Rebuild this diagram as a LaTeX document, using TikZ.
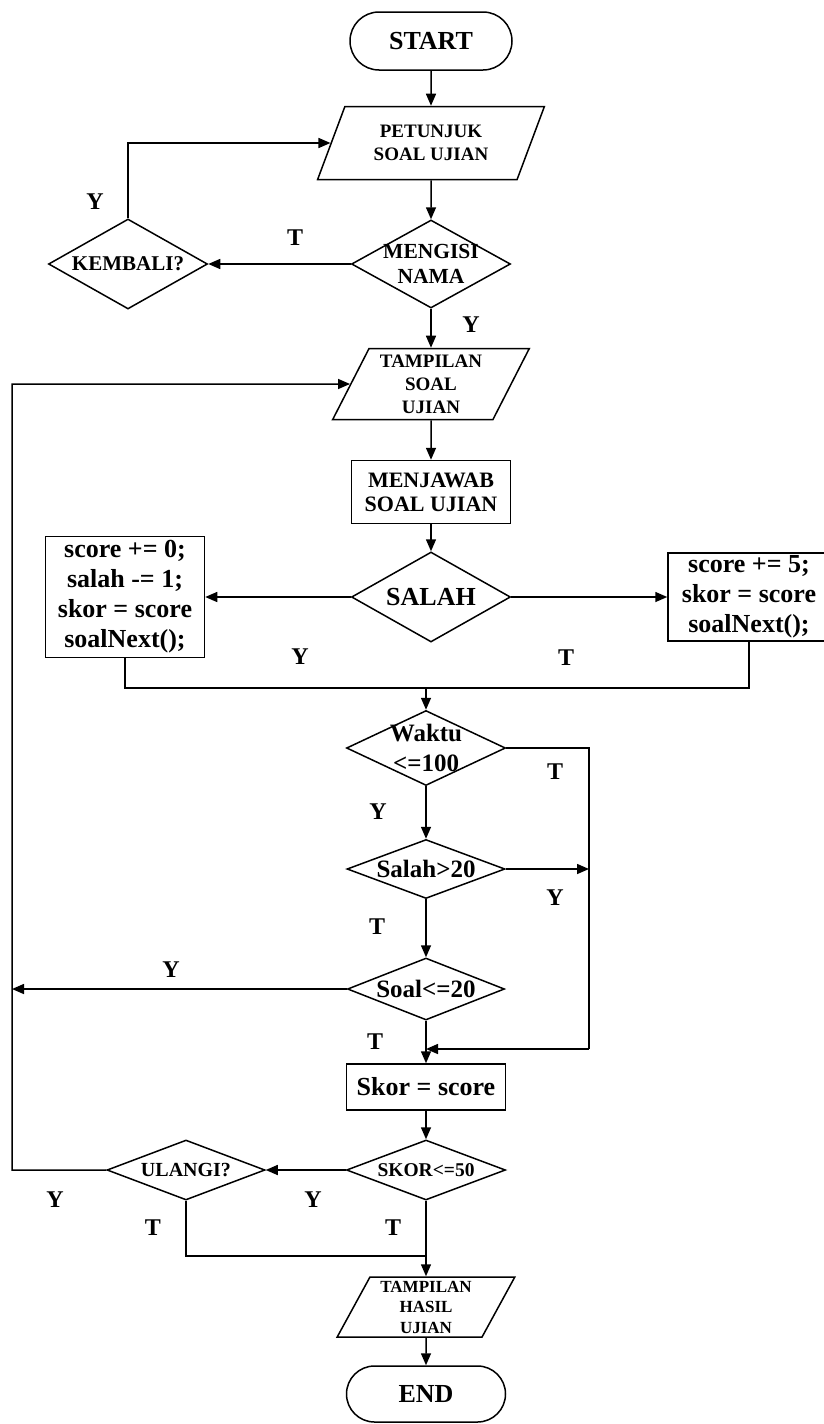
\documentclass[tikz,border=0pt]{standalone}
\usepackage{fontspec}
\setmainfont{Liberation Serif}
\usetikzlibrary{arrows.meta, shapes.geometric, shapes.misc}

% Font sizes
\newcommand{\sizeBig}{\fontsize{26}{30}\selectfont}
\newcommand{\sizeCond}{\fontsize{25}{30}\selectfont}
\newcommand{\sizeMid}{\fontsize{21.5}{25}\selectfont}
\newcommand{\sizeSmall}{\fontsize{19}{23}\selectfont}
\newcommand{\sizeTiny}{\fontsize{17}{20.5}\selectfont}

\tikzset{
    base/.style={draw, line width=1.5pt, inner sep=0pt, align=center, font=\bfseries},
    terminal/.style={base, rounded rectangle, minimum width=162pt, minimum height=58pt, font=\bfseries\sizeBig},
    io/.style={base, trapezium, trapezium left angle=63, trapezium right angle=117, trapezium stretches=true},
    process/.style={base, rectangle},
    decision/.style={base, diamond},
    dtext/.style={align=center, inner sep=0pt},
    line/.style={line width=1.5pt},
    arrow/.style={line width=1.5pt, -{Triangle[length=12pt,width=10pt]}},
    answer/.style={font=\bfseries\fontsize{24}{24}\selectfont, inner sep=0pt}
}

\begin{document}
\begin{tikzpicture}[x=1pt, y=-1pt]
    \useasboundingbox (0,0) rectangle (824,1424);

    % Nodes
    \node[terminal] (start) at (431,41) {START};
    \node[io, minimum width=227pt, minimum height=73pt, font=\bfseries\sizeSmall] (petunjuk) at (431,143) {PETUNJUK\\SOAL UJIAN};
    \node[decision, minimum width=159pt, minimum height=88pt,
        label={[dtext, font=\bfseries\sizeMid]center:{MENGISI\\NAMA}}] (isi) at (431,264) {};
    \node[decision, minimum width=159pt, minimum height=90pt,
        label={[dtext, font=\bfseries\fontsize{21}{25}\selectfont]center:KEMBALI?}] (kembali) at (128,264) {};
    \node[io, minimum width=197pt, minimum height=71pt, font=\bfseries\sizeSmall] (tampil) at (431,384) {TAMPILAN\\SOAL\\UJIAN};
    \node[process, minimum width=159pt, minimum height=63pt, font=\bfseries\fontsize{22}{24}\selectfont] (jawab) at (431,492) {MENJAWAB\\SOAL UJIAN};
    \node[decision, minimum width=159pt, minimum height=90pt,
        label={[dtext, font=\bfseries\sizeBig]center:SALAH}] (salah) at (431,597) {};
    \node[process, minimum width=159pt, minimum height=121pt, font=\bfseries\sizeBig] (kurang) at (125,597) {score += 0;\\salah -= 1;\\skor = score\\soalNext();};
    \node[process, minimum width=162pt, minimum height=88pt, font=\bfseries\sizeBig] (tambah) at (749,597) {score += 5;\\skor = score\\soalNext();};
    \node[decision, minimum width=159pt, minimum height=75pt,
        label={[dtext, font=\bfseries\sizeCond]center:{Waktu\\<=100}}] (waktu) at (426,748) {};
    \node[decision, minimum width=158pt, minimum height=59pt,
        label={[dtext, font=\bfseries\sizeCond]center:Salah>20}] (cekSalah) at (426,869) {};
    \node[decision, minimum width=157pt, minimum height=62pt,
        label={[dtext, font=\bfseries\sizeCond]center:Soal<=20}] (soal) at (426,989) {};
    \node[process, minimum width=159pt, minimum height=46pt, font=\bfseries\sizeBig] (skor) at (426,1087) {Skor = score};
    \node[decision, minimum width=159pt, minimum height=60pt,
        label={[dtext, font=\bfseries\fontsize{19.5}{22}\selectfont]center:SKOR<=50}] (cekSkor) at (426,1170) {};
    \node[decision, minimum width=158pt, minimum height=60pt,
        label={[dtext, font=\bfseries\fontsize{20}{22}\selectfont]center:ULANGI?}] (ulangi) at (186,1170) {};
    \node[io, minimum width=178pt, minimum height=60pt, font=\bfseries\sizeTiny] (hasil) at (426,1307) {TAMPILAN\\HASIL\\UJIAN};
    \node[terminal, minimum width=159pt, minimum height=56pt] (end) at (426,1394) {END};

    % Corner points of the loops
    \coordinate (gabung) at (426,688);
    \coordinate (kanan) at (589,1049);
    \coordinate (kiri) at (12,384);
    \coordinate (bawah) at (426,1256);

    % Connectors
    \draw[arrow] (start) -- (petunjuk);
    \draw[arrow] (petunjuk) -- (isi);
    \draw[arrow] (isi.west) -- (kembali.east);
    \draw[arrow] (kembali.north) |- (petunjuk.west);
    \draw[arrow] (isi) -- (tampil);
    \draw[arrow] (tampil) -- (jawab);
    \draw[arrow] (jawab) -- (salah);
    \draw[arrow] (salah.west) -- (kurang.east);
    \draw[arrow] (salah.east) -- (tambah.west);
    \draw[line] (kurang.south) |- (gabung);
    \draw[line] (tambah.south) |- (gabung);
    \draw[arrow] (gabung) -- (waktu);
    \draw[line] (waktu.east) -| (kanan);
    \draw[arrow] (kanan) -- (kanan -| skor.north);
    \draw[arrow] (waktu) -- (cekSalah);
    \draw[arrow] (cekSalah.east) -- (cekSalah.east -| kanan);
    \draw[arrow] (cekSalah) -- (soal);
    \draw[arrow] (soal.west) -- (soal.west -| kiri);
    \draw[arrow] (soal) -- (skor);
    \draw[arrow] (skor) -- (cekSkor);
    \draw[arrow] (cekSkor.west) -- (ulangi.east);
    \draw[arrow] (ulangi.west) -| (kiri) -- (tampil.west);
    \draw[line] (ulangi.south) |- (bawah);
    \draw[arrow] (cekSkor) -- (hasil);
    \draw[arrow] (hasil) -- (end);

    % Answer labels
    \node[answer] at (95,202) {Y};
    \node[answer] at (295,238) {T};
    \node[answer] at (471,325) {Y};
    \node[answer] at (300,657) {Y};
    \node[answer] at (566,658) {T};
    \node[answer] at (555,772) {T};
    \node[answer] at (378,812) {Y};
    \node[answer] at (555,898) {Y};
    \node[answer] at (377,927) {T};
    \node[answer] at (171,970) {Y};
    \node[answer] at (375,1042) {T};
    \node[answer] at (55,1200) {Y};
    \node[answer] at (313,1200) {Y};
    \node[answer] at (153,1228) {T};
    \node[answer] at (393,1228) {T};

\end{tikzpicture}
\end{document}
